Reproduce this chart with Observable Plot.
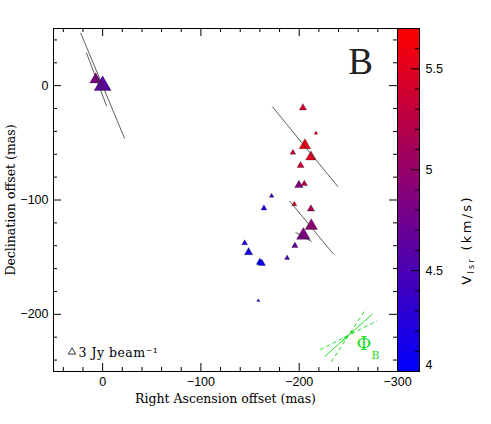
<!DOCTYPE html>
<html><head><meta charset="utf-8">
<script src="https://cdn.jsdelivr.net/npm/d3@7"></script>
<script src="https://cdn.jsdelivr.net/npm/@observablehq/plot@0.6"></script>
<style>
body{margin:0;background:#fff;}
#wrap{position:relative;width:491px;height:424px;}
#wrap svg{position:absolute;top:0;}
</style></head><body><div id="wrap"></div>
<script>
// ---- maser spots (RA offset mas, Dec offset mas, flux Jy/beam, Vlsr km/s)
const raOffset  = [7.1, 0.0, -203.8, -217.0, -205.8, -193.6, -211.9, -201.4, -199.7, -205.2, -171.9, -164.1, -195.0, -211.9, -212.3, -204.2, -195.6, -187.7, -144.5, -148.5, -160.0, -162.0, -158.4];
const decOffset = [5.4, 0.0, -19.4, -41.5, -52.2, -58.5, -62.3, -69.8, -87.0, -85.8, -96.5, -107.2, -103.7, -107.8, -122.6, -131.0, -140.0, -150.7, -137.7, -145.8, -154.5, -155.4, -188.0];
const fluxJy    = [4.85, 7.0, 3.0, 1.5, 4.7, 2.3, 4.3, 2.9, 3.5, 2.6, 1.9, 2.4, 2.1, 3.0, 5.1, 5.6, 2.6, 2.1, 2.4, 3.4, 3.0, 3.0, 1.3];
const vlsr      = [4.82, 4.6, 5.4, 5.55, 5.57, 5.35, 5.5, 5.37, 4.87, 5.2, 4.47, 4.13, 5.4, 5.13, 4.93, 4.83, 4.63, 4.53, 4.2, 4.13, 4.1, 4.07, 4.2];
// ---- polarization vectors (end points, mas)
const polX1 = [22.4, 16.6, -172.6, -190.2, -196.3];
const polY1 = [46.2, 29.0, -18.3, -100.9, -128.4];
const polX2 = [-22.4, -4.1, -239.4, -234.7, -212.6];
const polY2 = [-46.3, -18.0, -88.4, -147.2, -136.3];
// ---- magnetic field direction Phi_B (central line + uncertainty cone)
const phiX1 = [-226.0, -232.6, -221.3];
const phiY1 = [-236.9, -241.6, -230.9];
const phiX2 = [-274.5, -268.0, -279.2];
const phiY2 = [-199.7, -195.0, -205.7];
const phiArrX1 = [-242.7, -248.7];
const phiArrY1 = [-224.1, -219.4];
const phiArrX2 = [-248.7, -254.8];
const phiArrY2 = [-219.4, -214.8];
// ---- ticks
const xMajor = [0, -100, -200, -300];
const xMinor = [40, 20, -20, -40, -60, -80, -120, -140, -160, -180, -220, -240, -260, -280];
const yMajor = [0, -100, -200];
const yMinor = [40, 20, -20, -40, -60, -80, -120, -140, -160, -180, -220, -240];
const cbMajor = [4.5, 5, 5.5];
const cbMinor = [4.1, 4.2, 4.3, 4.4, 4.6, 4.7, 4.8, 4.9, 5.1, 5.2, 5.3, 5.4, 5.6];
const cbLabels = ["4.5", "5", "5.5"];
const legendFlux = [3];

const W = 491, H = 424, mL = 53, mR = 94, mT = 28, mB = 53;
const fW = W - mL - mR, fH = H - mT - mB;
const SANS = "Liberation Sans, Arial, sans-serif";
const SERIF = "DejaVu Serif, serif";
const GREEN = "#22dd22";
const colorOpts = {type: "linear", domain: [4, 5.7], range: ["#0000ff", "#ff0000"], interpolate: "rgb"};
const fmt = d => d < 0 ? "\u2212" + (-d) : String(d);

const spots = raOffset.map((x, i) => ({x, y: decOffset[i], flux: fluxJy[i], v: vlsr[i]}));
const vecs = polX1.map((x1, i) => ({x1, y1: polY1[i], x2: polX2[i], y2: polY2[i]}));
const phi = phiX1.map((x1, i) => ({x1, y1: phiY1[i], x2: phiX2[i], y2: phiY2[i]}));
const phiArr = phiArrX1.map((x1, i) => ({x1, y1: phiArrY1[i], x2: phiArrX2[i], y2: phiArrY2[i]}));
const C = {textAnchor: "middle", lineAnchor: "middle"};

const main = Plot.plot({
  width: W, height: H, marginLeft: mL, marginRight: mR, marginTop: mT, marginBottom: mB,
  x: {domain: [50, -300]},
  y: {domain: [-250, 50]},
  r: {type: "linear", domain: [0, 3], range: [0, 2.7]},
  color: colorOpts,
  marks: [
    Plot.frame({stroke: "black"}),
    Plot.tickX(xMajor, {x: d => d, insetTop: fH - 8, stroke: "black"}),
    Plot.tickX(xMinor, {x: d => d, insetTop: fH - 4, stroke: "black"}),
    Plot.tickX(xMajor, {x: d => d, insetBottom: fH - 8, stroke: "black"}),
    Plot.tickX(xMinor, {x: d => d, insetBottom: fH - 4, stroke: "black"}),
    Plot.tickY(yMajor, {y: d => d, insetRight: fW - 8, stroke: "black"}),
    Plot.tickY(yMinor, {y: d => d, insetRight: fW - 4, stroke: "black"}),
    Plot.tickY(yMajor, {y: d => d, insetLeft: fW - 8, stroke: "black"}),
    Plot.tickY(yMinor, {y: d => d, insetLeft: fW - 4, stroke: "black"}),
    Plot.axisX(xMajor, {anchor: "bottom", tickSize: 0, tickPadding: 6, tickFormat: fmt, label: null, fontSize: 12.5, fontFamily: SANS, fill: "black"}),
    Plot.axisY(yMajor, {anchor: "left", tickSize: 0, tickPadding: 5, tickFormat: fmt, label: null, fontSize: 12.5, fontFamily: SANS, fill: "black"}),
    Plot.text(["Right Ascension offset (mas)"], {...C, text: d => d, frameAnchor: "bottom", dy: 27, fontSize: 12.5, fontFamily: SERIF, fill: "black"}),
    Plot.text(["Declination offset (mas)"], {...C, text: d => d, frameAnchor: "left", dx: -43, rotate: -90, fontSize: 12.5, fontFamily: SERIF, fill: "black"}),
    Plot.dot(spots, {x: "x", y: "y", r: "flux", fill: "v", symbol: "triangle", stroke: "#000", strokeWidth: 0.5, strokeOpacity: 0.55}),
    Plot.link(vecs, {x1: "x1", y1: "y1", x2: "x2", y2: "y2", stroke: "#333", strokeWidth: 0.8}),
    Plot.link(phi.slice(0, 1), {x1: "x1", y1: "y1", x2: "x2", y2: "y2", stroke: GREEN, strokeWidth: 1}),
    Plot.link(phi.slice(1), {x1: "x1", y1: "y1", x2: "x2", y2: "y2", stroke: GREEN, strokeWidth: 1, strokeDasharray: "4,3"}),
    Plot.arrow(phiArr, {x1: "x1", y1: "y1", x2: "x2", y2: "y2", stroke: GREEN, strokeWidth: 1, headLength: 5}),
    Plot.text(["\u03A6"], {...C, text: d => d, frameAnchor: "bottom-right", dx: -33.7, dy: -27.7, fill: GREEN, fontSize: 18, fontFamily: SERIF}),
    Plot.text(["B"], {...C, text: d => d, frameAnchor: "bottom-right", dx: -22, dy: -16, fill: GREEN, fontSize: 11, fontFamily: SERIF}),
    Plot.dot(legendFlux, {r: d => d, frameAnchor: "bottom-left", dx: 18.5, dy: -19.5, symbol: "triangle", fill: "none", stroke: "black", strokeWidth: 0.8}),
    Plot.text(legendFlux, {text: d => d + " Jy beam\u207B\u00B9", frameAnchor: "bottom-left", dx: 25, dy: -19, textAnchor: "start", lineAnchor: "middle", fontSize: 12.5, fontFamily: SERIF, fill: "black"}),
    Plot.text(["B"], {...C, text: d => d, frameAnchor: "top-right", dx: -37, dy: 34, fontSize: 37, fontFamily: "Liberation Serif, serif", fill: "#222"})
  ]
});

const cbW = 95, cbL = 1, cbR = 72;
const cbFW = cbW - cbL - cbR;
const cb = Plot.plot({
  width: cbW, height: H, marginLeft: cbL, marginRight: cbR, marginTop: mT, marginBottom: mB,
  x: {domain: [0, 1], axis: null},
  y: {domain: [4, 5.7], axis: null},
  color: colorOpts,
  marks: [
    Plot.raster({x1: 0, x2: 1, y1: 4, y2: 5.7, width: 2, height: 172, fill: (x, y) => y, imageRendering: "auto"}),
    Plot.frame({stroke: "black"}),
    Plot.tickY(cbMajor, {y: d => d, insetLeft: cbFW - 8, stroke: "black"}),
    Plot.tickY(cbMinor, {y: d => d, insetLeft: cbFW - 4, stroke: "black"}),
    Plot.text(cbMajor, {y: d => d, text: (d, i) => cbLabels[i], frameAnchor: "right", dx: 6, textAnchor: "start", lineAnchor: "middle", fontSize: 12.5, fontFamily: SANS, fill: "black"}),
    Plot.text([4], {y: d => d, text: d => String(d), frameAnchor: "right", dx: 6, dy: -7, textAnchor: "start", lineAnchor: "middle", fontSize: 12.5, fontFamily: SANS, fill: "black"}),
    Plot.text(["Vlsr (km/s)"], {...C, text: d => d, frameAnchor: "right", dx: 47, dy: 40, rotate: -90, fontSize: 13, fontFamily: "DejaVu Sans, sans-serif", fill: "black"})
  ]
});
cb.style.left = (W - mR - cbL) + "px";
main.style.left = "0px";
const wrap = document.getElementById("wrap");
wrap.appendChild(main);
wrap.appendChild(cb);
d3.select(cb).selectAll("text").filter(function() { return this.textContent === "Vlsr (km/s)"; }).each(function() {
  const t = d3.select(this);
  t.text(null).style("letter-spacing", "2.3px");
  t.append("tspan").text("V");
  t.append("tspan").attr("font-size", "8px").attr("dy", "3").text("lsr");
  t.append("tspan").attr("dy", "-3").text(" (km/s)");
});
d3.select(main).selectAll("text").filter(function() { return this.textContent.indexOf("Jy beam") >= 0; })
  .style("letter-spacing", "0.5px");
</script></body></html>
